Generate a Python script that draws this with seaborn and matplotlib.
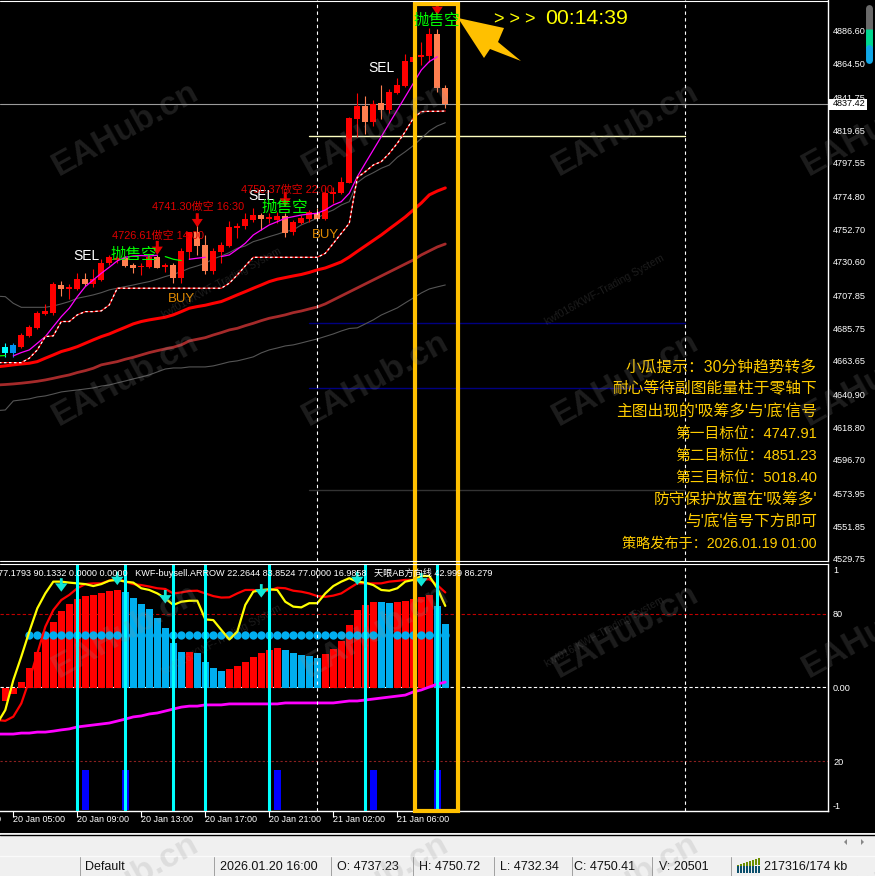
#!/usr/bin/env python
# MT4 30 min chart: candles + oscillator window, status bar at the bottom
import numpy as np
import pandas as pd
import matplotlib
matplotlib.use('Agg')
import matplotlib.pyplot as plt
from matplotlib.patches import Polygon, Rectangle
from matplotlib.transforms import blended_transform_factory
import seaborn as sns

## Data

candle_high = [4675.5, 4675.5, 4682.3, 4687.9, 4697.6, 4702.1, 4717.2, 4717.6, 4715.6, 4722.8, 4722.8, 4725.5, 4732.3, 4735.2,
               4734.5, 4734.5, 4730.0, 4729.6, 4735.2, 4735.2, 4729.6, 4729.6, 4739.7, 4750.72, 4758.9, 4748.7, 4739.7, 4744.2,
               4758.4, 4757.1, 4763.4, 4766.8, 4763.4, 4763.4, 4764.5, 4763.4, 4758.9, 4762.2, 4765.6, 4766.7, 4781.4, 4781.4,
               4788.1, 4828.7, 4844.9, 4842.7, 4840.0, 4850.1, 4847.2, 4854.6, 4871.1, 4871.5, 4879.4, 4888.4, 4887.7, 4850.1]
candle_top = [4673.2, 4674.4, 4681.1, 4686.8, 4695.8, 4697.4, 4715.6, 4714.9, 4713.4, 4719.0, 4719.0, 4719.0, 4729.6, 4733.6,
              4733.0, 4733.0, 4728.4, 4727.8, 4733.6, 4733.6, 4728.2, 4728.4, 4738.1, 4750.41, 4751.0, 4742.0, 4737.9, 4742.0,
              4753.9, 4755.0, 4759.3, 4762.2, 4762.2, 4761.1, 4761.6, 4761.6, 4757.7, 4760.0, 4764.0, 4763.3, 4776.9, 4778.0,
              4784.8, 4827.6, 4835.9, 4835.9, 4837.3, 4837.7, 4845.6, 4850.1, 4866.3, 4869.2, 4870.4, 4884.6, 4884.6, 4847.8]
candle_bottom = [4668.7, 4668.7, 4673.2, 4680.5, 4685.6, 4695.3, 4696.2, 4712.2, 4712.5, 4712.2, 4715.6, 4715.6, 4718.3, 4729.6,
                 4731.8, 4727.8, 4726.6, 4726.9, 4726.9, 4726.61, 4726.9, 4719.4, 4719.4, 4737.23, 4741.3, 4724.4, 4724.4, 4737.5,
                 4741.5, 4753.7, 4755.0, 4758.9, 4759.3, 4759.3, 4758.9, 4750.37, 4751.0, 4757.0, 4759.5, 4759.5, 4759.5, 4776.4,
                 4776.9, 4784.1, 4827.1, 4825.3, 4825.3, 4833.2, 4833.2, 4844.5, 4849.4, 4865.9, 4868.8, 4869.7, 4847.8, 4837.42]
candle_low = [4666.5, 4666.5, 4672.1, 4680.0, 4685.2, 4694.7, 4694.7, 4707.5, 4705.2, 4711.6, 4714.3, 4713.8, 4717.9, 4728.4,
              4729.6, 4727.3, 4723.3, 4721.7, 4726.2, 4726.2, 4723.9, 4716.1, 4716.1, 4732.34, 4735.2, 4722.4, 4722.4, 4729.6,
              4740.8, 4746.5, 4752.8, 4757.7, 4752.1, 4757.1, 4756.6, 4747.6, 4748.7, 4756.1, 4757.7, 4758.9, 4758.9, 4770.1,
              4776.4, 4783.6, 4814.7, 4817.0, 4822.4, 4827.1, 4831.0, 4844.0, 4849.0, 4860.0, 4863.6, 4865.9, 4845.6, 4834.3]
# c = cyan, b = blue, u = up (red), d = down (coral)
candle_kind = ['c', 'b', 'u', 'u', 'u', 'u', 'u', 'd', 'u', 'u', 'd', 'u', 'u', 'u',
               'u', 'd', 'd', 'u', 'u', 'd', 'u', 'd', 'u', 'u', 'd', 'd', 'u', 'u',
               'u', 'u', 'u', 'u', 'd', 'u', 'u', 'd', 'u', 'u', 'u', 'd', 'u', 'u',
               'u', 'u', 'u', 'd', 'u', 'd', 'u', 'u', 'u', 'u', 'u', 'u', 'd', 'd']

ma_fast = [np.nan, 4667.0, 4669.2, 4671.0, 4675.5, 4680.0, 4686.8, 4693.5, 4699.2, 4707.0, 4713.8, 4718.3, 4722.8, 4726.9,
           4731.2, 4733.6, 4734.5, 4734.8, 4734.5, 4735.0, np.nan, np.nan, np.nan, 4732.3, 4733.0, 4733.6, np.nan, 4734.1,
           4735.2, 4739.0, 4743.1, 4748.7, 4752.1, 4755.5, 4757.7, 4760.0, 4761.1, 4762.2, 4762.9, 4763.4, 4765.6, 4769.0,
           4771.2, 4776.9, 4788.1, 4797.2, 4806.2, 4815.2, 4824.2, 4833.2, 4842.2, 4851.2, 4860.2, 4865.9, 4869.2, np.nan]
ma_fast_green = [4734.1, 4732.3, 4731.4]
green_bars = [20, 21, 22]
green_stub = [4666.9, 4667.2]
green_stub_bars = [-1, 0]

step_line = [4662.4, 4662.4, 4662.4, 4662.4, 4665.4, 4671.0, 4680.0, 4680.5, 4690.2, 4690.2, 4694.7, 4696.9, 4696.9, 4697.4, 4701.4,
             4712.7, 4712.7, 4712.7, 4712.7, 4712.7, 4712.7, 4712.7, 4712.7, 4712.7, 4712.7, 4712.7, 4712.7, 4712.7, 4712.7,
             4716.1, 4721.7, 4727.8, 4733.6, 4733.6, 4733.6, 4733.6, 4733.6, 4733.6, 4733.6, 4733.6, 4733.6, 4736.3, 4743.0,
             4749.8, 4756.6, 4787.5, 4791.5, 4796.0, 4798.3, 4803.9, 4810.7, 4818.6, 4827.6, 4832.1, 4832.3, 4832.3, 4832.5]

# these run from one bar before the first candle, off the left edge
ma_red = [4659.6, 4660.2, 4660.9, 4661.5, 4662.0, 4663.1, 4665.4, 4667.6, 4669.9, 4671.4, 4673.2, 4675.5, 4677.8, 4680.0, 4681.8,
          4684.1, 4686.3, 4688.6, 4690.2, 4691.3, 4692.2, 4693.1, 4694.7, 4696.9, 4699.2, 4700.3, 4701.2, 4702.5, 4703.7,
          4705.9, 4708.2, 4710.4, 4712.7, 4714.9, 4717.2, 4718.8, 4719.9, 4721.0, 4722.0, 4723.4, 4725.1, 4726.4, 4728.4,
          4730.5, 4733.8, 4737.6, 4741.3, 4745.0, 4748.7, 4752.8, 4756.8, 4760.9, 4765.6, 4770.3, 4775.8, 4778.4, 4780.5]
ma_brown = [4647.3, 4647.6, 4648.0, 4648.5, 4649.1, 4649.8, 4650.7, 4651.8, 4653.0, 4654.1, 4655.7, 4657.0, 4658.6, 4660.9, 4662.0,
            4663.1, 4664.7, 4666.0, 4667.6, 4669.2, 4670.5, 4671.7, 4672.8, 4674.4, 4677.1, 4678.2, 4679.3, 4681.1, 4682.7,
            4684.5, 4685.6, 4687.4, 4689.0, 4690.8, 4692.4, 4693.5, 4694.7, 4696.2, 4697.3, 4698.7, 4700.0, 4702.1, 4704.8,
            4707.5, 4710.2, 4712.9, 4715.6, 4718.3, 4721.0, 4723.7, 4726.4, 4729.1, 4731.8, 4735.2, 4737.9, 4740.6, 4742.6]
band_upper = [4707.3, 4707.0, 4702.5, 4699.8, 4699.8, 4699.8, 4699.8, 4700.7, 4702.1, 4703.7, 4705.9, 4707.0, 4708.2, 4709.7, 4711.6,
              4712.7, 4713.8, 4714.9, 4716.1, 4717.2, 4718.8, 4720.6, 4722.1, 4723.9, 4726.2, 4727.8, 4729.6, 4732.5, 4734.5,
              4736.8, 4739.7, 4741.3, 4744.2, 4745.8, 4747.6, 4749.2, 4751.0, 4752.1, 4755.5, 4757.7, 4760.0, 4763.4, 4765.6,
              4769.0, 4771.2, 4784.1, 4788.1, 4790.8, 4793.8, 4796.0, 4801.2, 4805.0, 4809.1, 4814.0, 4819.0, 4822.4, 4824.6]
band_lower = [4630.0, 4630.4, 4636.5, 4637.2, 4637.9, 4639.2, 4639.9, 4641.2, 4642.6, 4643.3, 4643.9, 4644.6, 4645.3, 4646.6, 4647.3,
              4648.7, 4650.0, 4651.4, 4652.7, 4654.1, 4656.1, 4658.1, 4658.8, 4658.8, 4659.5, 4659.5, 4659.5, 4660.2, 4661.5,
              4662.9, 4663.6, 4664.9, 4666.3, 4669.0, 4671.0, 4672.3, 4673.7, 4674.4, 4675.7, 4677.1, 4678.4, 4680.1, 4681.8,
              4683.8, 4685.5, 4685.9, 4688.6, 4691.3, 4694.6, 4697.0, 4699.4, 4702.8, 4706.1, 4709.5, 4712.2, 4713.6, 4714.9]

last_price = 4837.42
level_white = 4815.4
levels_navy = [4689.2, 4645.3]
level_gray = 4576.4
price_ticks = [4886.60, 4864.50, 4841.75, 4819.65, 4797.55, 4774.80, 4752.70, 4730.60, 4707.85, 4685.75, 4663.65,
               4640.90, 4618.80, 4596.70, 4573.95, 4551.85, 4529.75]

# oscillator window, 0-100 scale with 50 as the zero axis of the histogram
hist_value = [-5.6, -2.7, 2.3, 8.0, 14.6, 20.4, 26.8, 31.3, 34.0, 36.1, 37.3, 37.7, 38.4, 39.3,
              39.7, 38.9, 36.5, 34.0, 32.0, 28.3, 24.2, 18.1, 14.4, 14.4, 14.0, 10.3, 7.9, 6.7,
              7.5, 8.7, 10.3, 12.4, 14.0, 15.2, 16.1, 15.2, 14.0, 13.2, 12.8, 12.0, 13.6, 15.6,
              18.9, 25.4, 31.6, 33.6, 34.8, 34.8, 34.4, 34.8, 35.2, 36.1, 36.9, 37.7, 33.2, 25.9]
hist_kind = ['r'] * 15 + ['s'] * 8 + ['r'] + ['s'] * 4 + ['r'] * 7 + ['s'] * 5 + ['r'] * 7 + ['s'] * 2 + ['r'] * 5 + ['s'] * 2
osc_yellow = [35.4, 40.8, 53.0, 62.6, 72.8, 82.3, 88.4, 93.2, 93.2, 92.8, 92.5, 92.2, 91.4, 92.2, 93.6,
              93.9, 93.2, 92.8, 90.5, 89.8, 88.4, 86.4, 83.7, 85.0, 85.4, 85.4, 77.8, 77.5, 73.5,
              69.6, 72.8, 83.7, 89.1, 89.8, 90.1, 89.8, 85.0, 83.0, 82.7, 84.4, 84.4, 88.4, 91.4,
              93.2, 94.6, 93.2, 92.8, 91.8, 89.8, 89.5, 90.5, 93.2, 93.9, 95.5, 95.5, 90.5, 83.3]
osc_red = [36.7, 36.4, 38.1, 43.5, 53.0, 63.9, 74.8, 81.6, 85.7, 87.8, 90.5, 92.2, 92.5, 92.5, 93.6,
           94.6, 93.2, 92.2, 91.8, 91.2, 90.5, 90.2, 88.4, 88.8, 89.4, 89.5, 88.4, 87.3, 86.7,
           86.8, 88.4, 89.8, 89.8, 89.5, 89.5, 90.7, 90.5, 89.5, 89.1, 88.4, 87.3, 87.0, 87.5,
           88.4, 90.5, 92.5, 92.5, 92.5, 92.5, 93.2, 93.5, 93.9, 93.9, 93.9, 94.2, 91.8, 88.8]
osc_magenta = [31.0, 31.0, 31.0, 31.4, 31.4, 31.8, 31.8, 32.2, 32.7, 33.1, 33.9, 34.3, 34.7, 35.1, 35.5,
               36.3, 37.1, 38.0, 38.4, 39.2, 39.6, 40.4, 41.2, 42.0, 42.4, 42.4, 42.9, 42.9, 42.9,
               43.3, 43.3, 43.3, 43.3, 43.3, 43.3, 43.3, 43.7, 43.7, 43.7, 43.7, 43.7, 43.7, 43.7,
               44.1, 44.5, 44.5, 44.9, 45.3, 45.7, 46.1, 46.5, 46.9, 48.2, 49.0, 50.2, 51.4, 52.2]
dot_level = 71.4
cyan_line_bars = [9, 15, 21, 25, 33, 45, 54]
marker_bars = [10, 15, 34, 46, 54]
marker_height = 16.3
osc_arrow_bars = [7, 14, 20, 32, 44, 52]
osc_arrow_tips = [89.1, 91.8, 84.3, 86.7, 91.8, 91.2]
red_arrow_bars = [19, 24, 35, 54]
red_arrow_tips = [4735.2, 4753.9, 4767.9, 4897.4]

time_bars = [-7, 1, 9, 17, 25, 33, 41, 49]
time_labels = ['20 Jan 01:00', '20 Jan 05:00', '20 Jan 09:00', '20 Jan 13:00', '20 Jan 17:00', '20 Jan 21:00',
               '21 Jan 02:00', '21 Jan 06:00']
osc_ticks = [97.96, 80, 50, 20, 2.04]
osc_tick_labels = ['1', '80', '0.00', '20', '-1']

notes = ['小瓜提示：30分钟趋势转多', '耐心等待副图能量柱于零轴下', "主图出现的'吸筹多'与'底'信号",
         '第一目标位：4747.91', '第二目标位：4851.23', '第三目标位：5018.40',
         "防守保护放置在'吸筹多'", "与'底'信号下方即可", '策略发布于：2026.01.19 01:00']
note_rows = [367, 389, 412, 434, 456, 478, 499, 521, 544]
note_sizes = [11.3, 11.3, 11.3, 10.6, 10.6, 10.6, 11.3, 11.3, 10.2]
status_texts = ['Default', '2026.01.20 16:00', 'O: 4737.23', 'H: 4750.72', 'L: 4732.34', 'C: 4750.41', 'V: 20501', '217316/174 kb']
status_left = [85, 220, 337, 419, 500, 574, 659, 764]
status_dividers = [80, 214, 331, 413, 494, 572, 652, 731]
osc_header = '77.1793 90.1332 0.0000 0.0000   KWF-buysell.ARROW 22.2644 83.8524 77.0000 16.9858   天眼AB方向线 42.999 86.279'

## Style

sns.set_theme(style='dark', rc={'axes.facecolor': 'black', 'figure.facecolor': 'black', 'axes.grid': False})
plt.rcParams['font.family'] = ['Liberation Sans', 'Noto Sans CJK SC', 'DejaVu Sans']

W, H = 875, 876
ORANGE = '#FFC000'
SKY = '#00AEEF'
fig = plt.figure(figsize=(W / 100, H / 100), dpi=100)

def pane(top, bottom, right=828):
    return fig.add_axes([0, 1 - bottom / H, right / W, (bottom - top) / H])

bars = np.arange(len(candle_high))
bars_lead = np.arange(-1, len(candle_high))
xlim = (-0.6625, 102.84)
ax = pane(0, 561)
ax2 = pane(564, 811)

def draw_line(axis, x, y, color, lw, **kw):
    # seaborn drops NaN and would join the gaps, so draw each run on its own
    frame = pd.DataFrame({'x': x, 'y': y})
    run = frame['y'].isna().cumsum()
    for _, part in frame.dropna().groupby(run):
        sns.lineplot(data=part, x='x', y='y', color=color, lw=lw, ax=axis, legend=False, errorbar=None, **kw)

## Main window

for lvl in levels_navy:
    ax.plot([37.96, 84.96], [lvl, lvl], color='#000080', lw=1, zorder=1)
ax.plot([37.96, 84.96], [level_gray, level_gray], color='#333333', lw=1, zorder=1)
ax.plot([37.96, 84.96], [level_white, level_white], color='#FFFFC0', lw=1, zorder=1)
ax.axhline(last_price, color='#9A9A9A', lw=0.8, zorder=1)

draw_line(ax, bars_lead, band_upper, '#555555', 0.8, zorder=2)
draw_line(ax, bars_lead, band_lower, '#555555', 0.8, zorder=2)
draw_line(ax, bars_lead, ma_brown, '#A52A2A', 2, zorder=2)
draw_line(ax, bars_lead, ma_red, '#FF0000', 2.2, zorder=2)

kind_color = {'c': '#00FFFF', 'b': '#0090F0', 'u': '#FF0000', 'd': '#FF7F50'}
candle_colors = [kind_color[k] for k in candle_kind]
ax.vlines(bars, candle_low, candle_high, colors=candle_colors, lw=0.8, zorder=3)
ax.bar(bars, np.array(candle_top) - np.array(candle_bottom), bottom=candle_bottom, width=0.75,
       color=candle_colors, lw=0, zorder=3)

draw_line(ax, bars, ma_fast, '#FF00FF', 0.9, zorder=4)
draw_line(ax, green_bars, ma_fast_green, '#00FF00', 0.9, zorder=4)
draw_line(ax, green_stub_bars, green_stub, '#00FF00', 0.9, zorder=4)
draw_line(ax, bars_lead, step_line, '#FF0000', 0.9, zorder=4)
draw_line(ax, bars_lead, step_line, 'white', 0.9, zorder=4, linestyle=(0, (2, 2)))

for b, tip in zip(red_arrow_bars, red_arrow_tips):
    ax.annotate('', xy=(b, tip), xytext=(b, tip + 9.5), annotation_clip=False, zorder=5,
                arrowprops=dict(facecolor='#E60000', edgecolor='none', width=2.2, headwidth=8, headlength=6, shrink=0))

ax.set_xlim(xlim)
ax.set_ylim(4528.3, 4907.55)
ax.set_xticks([])
ax.set_xlabel('')
ax.set_ylabel('')
ax.yaxis.tick_right()
ax.set_yticks(price_ticks)
ax.set_yticklabels(['%.2f' % p for p in price_ticks])
ax.tick_params(axis='y', colors='white', labelsize=6.6, length=2.2, width=0.8, pad=1.4, right=True)
sns.despine(ax=ax, left=True, top=True, bottom=True, right=False)
ax.spines['right'].set_color('white')
ax.spines['right'].set_linewidth(1)

## Oscillator window

ax2.axhline(50, color='white', lw=0.8, ls=(0, (3, 2)), zorder=1)
ax2.axhline(80, color='#C00000', lw=0.8, ls=(0, (3, 2)), zorder=1)
ax2.axhline(20, color='#8B2020', lw=0.8, ls=(0, (2, 2)), zorder=1)

sns.barplot(x=bars, y=hist_value, hue=hist_kind, palette={'r': '#FF0000', 's': SKY}, native_scale=True, dodge=False,
            width=0.9, bottom=50, errorbar=None, legend=False, saturation=1, linewidth=0, ax=ax2, zorder=2)
ax2.bar(marker_bars, marker_height, width=0.85, color='#0000FF', lw=0, zorder=2)
sns.scatterplot(x=bars[3:], y=[dot_level] * len(bars[3:]), color=SKY, s=36, linewidth=0, ax=ax2, legend=False, zorder=3)
draw_line(ax2, bars_lead, osc_red, '#FF0000', 1.6, zorder=4)
draw_line(ax2, bars_lead, osc_yellow, '#FFFF00', 1.6, zorder=4)
draw_line(ax2, bars_lead, osc_magenta, '#FF00FF', 2, zorder=4)
ax2.vlines(cyan_line_bars, -0.4, 100.4, color='#00FFFF', lw=2.2, zorder=5)
for b, tip in zip(osc_arrow_bars, osc_arrow_tips):
    ax2.annotate('', xy=(b, tip), xytext=(b, tip + 5.5), zorder=6,
                 arrowprops=dict(facecolor='#10E8D8', edgecolor='none', width=2, headwidth=9, headlength=6, shrink=0))

ax2.set_xlim(xlim)
ax2.set_ylim(-0.4, 100.4)
ax2.set_xlabel('')
ax2.set_ylabel('')
ax2.set_xticks([b for b in time_bars if b >= xlim[0]])
ax2.set_xticklabels([])
ax2.tick_params(axis='x', colors='white', length=4, width=0.8, bottom=True)
ax2.yaxis.tick_right()
ax2.set_yticks(osc_ticks)
ax2.set_yticklabels(osc_tick_labels)
ax2.tick_params(axis='y', colors='white', labelsize=6.6, length=2.2, width=0.8, pad=1.4, right=True)
sns.despine(ax=ax2, left=True, top=True, bottom=False, right=False)
for s in ('right', 'bottom'):
    ax2.spines[s].set_color('white')
    ax2.spines[s].set_linewidth(1)

trans2 = blended_transform_factory(ax2.transData, ax2.transAxes)
for b, lab in zip(time_bars, time_labels):
    ax2.text(b, -0.018, lab, transform=trans2, fontsize=6.5, color='white', va='top', ha='left')

# dashed verticals run through both windows
for a in (ax, ax2):
    a.axvline(38.97, color='white', lw=0.8, ls=(0, (3, 3)), zorder=5)
    a.axvline(84.96, color='white', lw=0.8, ls=(0, (3, 3)), zorder=5)

## Overlay in pixels: status bar, notes, watermarks

top = fig.add_axes([0, 0, 1, 1], facecolor='none')
top.set_xlim(0, W)
top.set_ylim(H, 0)
top.set_axis_off()

top.plot([0, 828], [561, 561], color='white', lw=0.8)
top.plot([0, 828], [564, 564], color='white', lw=0.8)
top.plot([0, 828], [0.7, 0.7], color='white', lw=0.8)
top.text(-2, 573, osc_header, color='white', fontsize=6.6, va='center', ha='left')

# last price box over the axis labels, and the small level pill top right
top.add_patch(Rectangle((829, 98.5), 38, 11, facecolor='white', edgecolor='none'))
top.text(833, 104, '%.2f' % last_price, fontsize=6.6, color='black', va='center', ha='left')
top.plot([868.5, 868.5], [8, 29], color='#6A6A6A', lw=5, solid_capstyle='round')
top.plot([868.5, 868.5], [29, 48], color='#00D890', lw=5, solid_capstyle='butt')
top.plot([868.5, 868.5], [48, 60], color='#10A8E8', lw=5, solid_capstyle='round')

# status bar
top.add_patch(Rectangle((0, 833), W, H - 833, facecolor='#F0F0F0', edgecolor='none'))
top.plot([0, W], [833.5, 833.5], color='white', lw=1)
top.plot([0, W], [835, 835], color='black', lw=1)
top.plot([0, W], [856, 856], color='#FAFAFA', lw=1)
for d in status_dividers:
    top.plot([d, d], [857, H], color='#A0A0A0', lw=0.7)
for s, xs in zip(status_texts, status_left):
    top.text(xs, 867, s, fontsize=9, color='#111111', va='center', ha='left')
for j in range(8):
    top.add_patch(Rectangle((737 + j * 3, 858 + (7 - j)), 2.4, 7 - (7 - j) * 0.6, facecolor='#6B8E00', edgecolor='none'))
    top.add_patch(Rectangle((737 + j * 3, 866), 2.4, 7, facecolor='#0B4F6C', edgecolor='none'))
top.add_patch(Polygon([(847, 839), (847, 845), (844, 842)], facecolor='#888888', edgecolor='none'))
top.add_patch(Polygon([(861, 839), (861, 845), (864, 842)], facecolor='#888888', edgecolor='none'))

# signal texts on the main window
for xs, ys in zip([86, 261, 381], [256, 196, 68]):
    top.text(xs, ys, 'SEL', color='white', fontsize=10, ha='center', va='center')
for xs, ys in zip([134, 285, 437], [254, 207, 20]):
    top.text(xs, ys, '抛售空', color='#00FF00', fontsize=11.2, ha='center', va='center')
for xs, ys in zip([181, 325], [299, 235]):
    top.text(xs, ys, 'BUY', color='#E08A00', fontsize=9.5, ha='center', va='center')
for xs, ys, s in zip([158, 198, 287], [236, 207, 190], ['4726.61做空 14:00', '4741.30做空 16:30', '4750.37做空 22:00']):
    top.text(xs, ys, s, color='#E00000', fontsize=7.9, ha='center', va='center')

for s, ys, fs in zip(notes, note_rows, note_sizes):
    top.text(817, ys, s, color='#FFCC00', fontsize=fs, ha='right', va='center')

top.text(494, 19, '> > >', color='#FFFF00', fontsize=13, ha='left', va='center')
top.text(545, 19, '00:14:39', color='#FFFF00', fontsize=15.3, ha='left', va='center')

# orange frame and pointer
top.add_patch(Rectangle((415, 3.5), 43, 807.5, facecolor='none', edgecolor=ORANGE, lw=3))
top.add_patch(Polygon([(458, 18), (504, 28), (498, 42), (521, 61), (490, 49), (484, 58)], facecolor=ORANGE, edgecolor='none'))

# watermarks
for ys in [129, 379, 631, 881]:
    for xs in [126, 376, 626, 876]:
        top.text(xs, ys, 'EAHub.cn', color='#909090', alpha=0.2, fontsize=24.5, fontweight='bold', rotation=29,
                 rotation_mode='anchor', ha='center', va='center', clip_on=True)
for xs, ys in [(222, 283), (605, 290), (222, 640), (605, 632)]:
    top.text(xs, ys, 'kwf016/KWF-Trading System', color='#909090', alpha=0.2, fontsize=7.5, rotation=29,
             rotation_mode='anchor', ha='center', va='center', clip_on=True)

fig.savefig('out.png', dpi=100, facecolor='black')
